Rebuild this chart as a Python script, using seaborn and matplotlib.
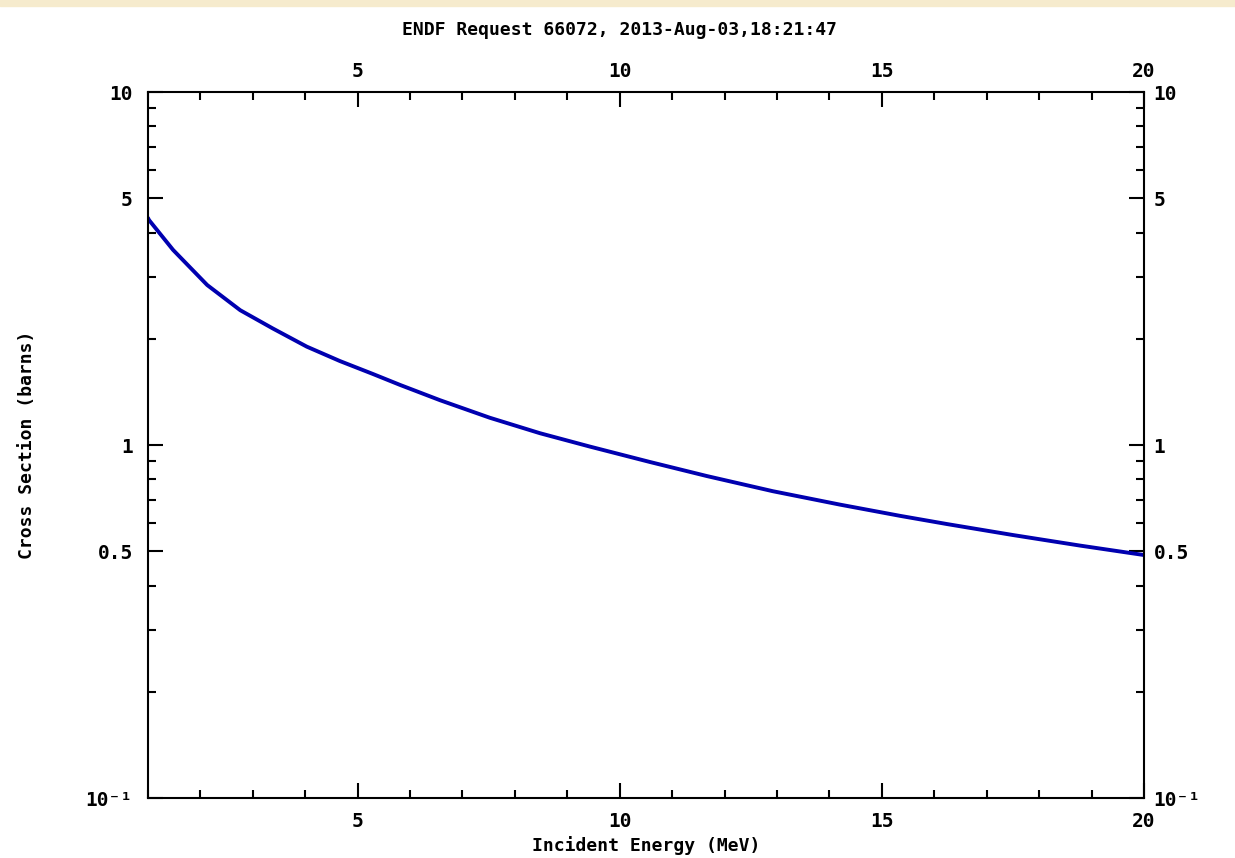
import matplotlib
matplotlib.use("Agg")
import matplotlib.pyplot as plt
import matplotlib.patches as mpatches
import seaborn as sns
import pandas as pd

# values
energy = [1.0, 1.02, 1.48, 2.13, 2.76, 3.38, 4.03, 4.66, 5.29, 5.81, 6.57, 7.52,
          8.48, 9.43, 10.58, 11.66, 12.92, 14.2, 15.35, 16.25, 17.5, 18.78, 20.0]
xsec = [4.40, 4.34, 3.57, 2.84, 2.41, 2.14, 1.90, 1.73, 1.59, 1.48, 1.34, 1.195,
        1.08, 0.99, 0.895, 0.817, 0.740, 0.678, 0.630, 0.597, 0.556, 0.519, 0.488]

xticks = [5, 10, 15, 20]
yticks = [0.1, 0.5, 1, 5, 10]
ytick_labels = ["10\u207b\u00b9", "0.5", "1", "5", "10"]

title = "ENDF Request 66072, 2013-Aug-03,18:21:47"

df = pd.DataFrame({"energy": energy, "xs": xsec})

sns.set_style("ticks")
plt.rcParams["font.family"] = ["DejaVu Sans Mono"]
plt.rcParams["font.weight"] = "bold"
plt.rcParams["text.color"] = "black"
plt.rcParams["xtick.color"] = "black"
plt.rcParams["ytick.color"] = "black"
plt.rcParams["axes.labelcolor"] = "black"

fig = plt.figure(figsize=(12.35, 8.58), dpi=100)
fig.patches.append(mpatches.Rectangle((0, 0.993), 1, 0.007, transform=fig.transFigure,
                                      color="#f6ebcd", zorder=0))
ax = fig.add_axes([0.1198, 0.0699, 0.8065, 0.8228])

sns.lineplot(data=df, x="energy", y="xs", ax=ax, color="#0000b0", linewidth=2.8)

ax.set_yscale("log")
ax.set_xlim(1, 20)
ax.set_ylim(0.1, 10)

ax.set_xticks(xticks)
ax.set_xticks(range(1, 21), minor=True)
ax.set_xticklabels([str(t) for t in xticks])
ax.set_yticks(yticks)
ax.set_yticklabels(ytick_labels)

for s in ax.spines.values():
    s.set_linewidth(1.5)
    s.set_color("black")

ax.tick_params(which="both", direction="in", top=True, right=True,
               labeltop=False, labelright=False, color="black", width=1.5)
ax.tick_params(which="major", length=11, labelsize=14)
ax.tick_params(which="minor", length=6)
ax.tick_params(axis="x", which="major", pad=10)
ax.tick_params(axis="y", which="major", pad=11)

# labels on top and right sit a bit closer to the frame
top = ax.secondary_xaxis("top")
top.set_xticks(xticks)
top.set_xticklabels([str(t) for t in xticks])
top.tick_params(length=0, pad=8, labelsize=14)
top.spines["top"].set_visible(False)

right = ax.secondary_yaxis("right")
right.set_yticks(yticks)
right.set_yticklabels(ytick_labels)
right.yaxis.set_minor_locator(matplotlib.ticker.NullLocator())
right.tick_params(which="both", length=0, pad=7, labelsize=14)
right.spines["right"].set_visible(False)

ax.set_xlabel("Incident Energy (MeV)", fontsize=13, fontweight="bold", labelpad=4)
ax.set_ylabel("Cross Section (barns)", fontsize=13, fontweight="bold", labelpad=36)
fig.text(0.502, 0.965, title, ha="center", va="center", fontsize=13, fontweight="bold")

fig.savefig("out.png", dpi=100, facecolor="white")
